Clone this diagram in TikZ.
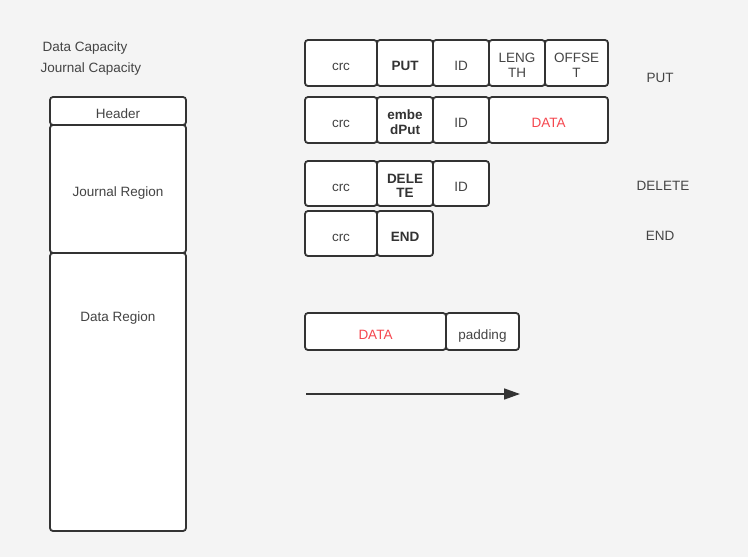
\documentclass[tikz,border=0pt]{standalone}
\usepackage{fontspec}
\setmainfont{Liberation Sans}
\usetikzlibrary{positioning,arrows.meta}

\definecolor{bgGray}{HTML}{F4F4F4}
\definecolor{lineGray}{HTML}{333333}
\definecolor{txtGray}{HTML}{444444}
\definecolor{dataRed}{HTML}{F5474F}

\tikzset{
  cell/.style={draw=lineGray, fill=white, line width=1.8pt, rounded corners=3pt,
    inner sep=0pt, outer sep=0pt, align=center, text=txtGray,
    font=\fontsize{13.5}{14.5}\selectfont, minimum height=46pt,
    text height=15pt, text depth=0pt},
  twoline/.style={text height=28pt, text depth=0pt},
  boldcell/.style={cell, font=\fontsize{13.5}{14.5}\selectfont\bfseries, text=lineGray},
  plain/.style={text=txtGray, font=\fontsize{13.5}{14.5}\selectfont, inner sep=0pt}
}

\begin{document}
\begin{tikzpicture}[x=1pt, y=-1pt]
	\fill[bgGray] (0,0) rectangle (748,557);
	\useasboundingbox (0,0) rectangle (748,557);

	% capacities
	\node[plain] (dataCap) at (85,48) {Data Capacity};
	\node[plain] (journalCap) at (91,69) {Journal Capacity};

	% left column : regions
	\node[cell, minimum width=136pt, minimum height=28pt, anchor=north west]
		(header) at (50,97) {Header};
	\node[cell, minimum width=136pt, minimum height=128pt, anchor=north]
		(journalR) at (header.south) {Journal Region};
	\node[cell, minimum width=136pt, minimum height=278pt, anchor=north]
		(dataR) at (journalR.south) {};
	\node[plain] (dataRtxt) at ([yshift=-65pt]dataR.north) {Data Region};

	% PUT
	\node[cell, minimum width=72pt, anchor=north west] (crcA) at (305,40) {crc};
	\node[boldcell, minimum width=56pt, right=0pt of crcA] (putA) {PUT};
	\node[cell, minimum width=56pt, right=0pt of putA] (idA) {ID};
	\node[cell, twoline, minimum width=56pt, right=0pt of idA] (lenA) {LENG\\TH};
	\node[cell, twoline, minimum width=63pt, right=0pt of lenA] (offA) {OFFSE\\T};
	\node[plain] (putLbl) at (660,78) {PUT};

	% embedded PUT
	\node[cell, minimum width=72pt, anchor=north west] (crcB) at (305,97) {crc};
	\node[boldcell, twoline, minimum width=56pt, right=0pt of crcB] (putB) {embe\\dPut};
	\node[cell, minimum width=56pt, right=0pt of putB] (idB) {ID};
	\node[cell, minimum width=119pt, right=0pt of idB, text=dataRed] (dataB) {DATA};

	% DELETE
	\node[cell, minimum width=72pt, minimum height=45pt, anchor=north west] (crcC) at (305,161) {crc};
	\node[boldcell, twoline, minimum width=56pt, minimum height=45pt, right=0pt of crcC] (delC) {DELE\\TE};
	\node[cell, minimum width=56pt, minimum height=45pt, right=0pt of delC] (idC) {ID};
	\node[plain] (delLbl) at (663,186) {DELETE};

	% END
	\node[cell, minimum width=72pt, minimum height=45pt, anchor=north west] (crcD) at (305,211) {crc};
	\node[boldcell, minimum width=56pt, minimum height=45pt, right=0pt of crcD] (endD) {END};
	\node[plain] (endLbl) at (660,236) {END};

	% data + padding
	\node[cell, minimum width=141pt, minimum height=37pt, anchor=north west, text=dataRed]
		(dataE) at (305,313) {DATA};
	\node[cell, minimum width=73pt, minimum height=37pt, right=0pt of dataE] (padE) {padding};

	% direction
	\coordinate (arrS) at (306,394);
	\coordinate (arrE) at (520,394);
	\draw[lineGray, line width=1.6pt, -{Triangle[length=16pt, width=11pt]}] (arrS) -- (arrE);
\end{tikzpicture}
\end{document}
